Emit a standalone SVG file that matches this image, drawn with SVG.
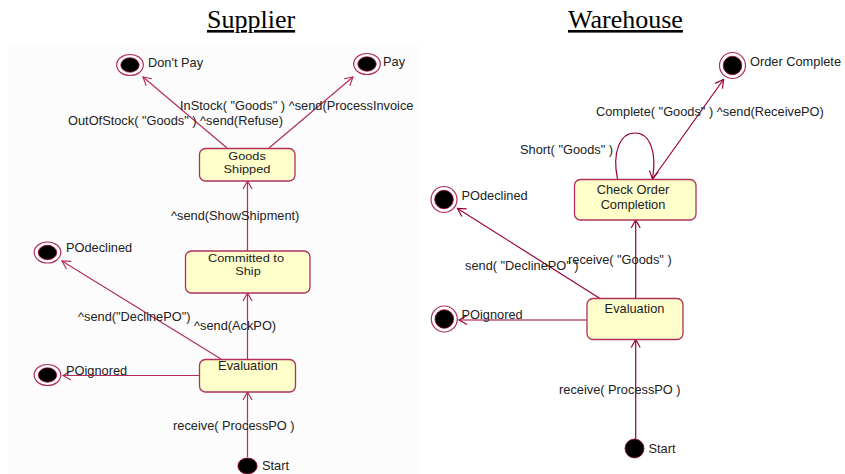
<svg xmlns="http://www.w3.org/2000/svg" width="845" height="474" viewBox="0 0 845 474">
  <style>
    .title { font-family: "Liberation Serif", "Times New Roman", serif; font-size: 26px; fill: #000; text-decoration: underline; }
    .lbl { font-family: "Liberation Sans", Arial, sans-serif; font-size: 12.8px; fill: #222; }
    .st { fill: #ffffcc; stroke: #b0305a; stroke-width: 1.3; }
    .stx { font-family: "Liberation Sans", Arial, sans-serif; font-size: 12.8px; fill: #222; text-anchor: middle; }
    .stx2 { font-family: "Liberation Sans", Arial, sans-serif; font-size: 11.5px; fill: #222; text-anchor: middle; }
    .ring { fill: #fff; stroke: #b0305a; stroke-width: 1.2; }
    .dot { fill: #000; stroke: #900030; stroke-width: 0.8; }
    .tr { fill: none; stroke: #b0305a; stroke-width: 1.2; marker-end: url(#open); }
    .tr2 { fill: none; stroke: #990033; stroke-width: 1.2; marker-end: url(#open2); }
  </style>
  <defs>
    <marker id="open" markerUnits="userSpaceOnUse" markerWidth="12" markerHeight="12" viewBox="-10 -6 12 12" refX="0" refY="0" orient="auto">
      <path d="M-8,-4.5 L0,0 L-8,4.5" fill="none" stroke="#b0305a" stroke-width="1.2"/>
    </marker>
    <marker id="open2" markerUnits="userSpaceOnUse" markerWidth="12" markerHeight="12" viewBox="-10 -6 12 12" refX="0" refY="0" orient="auto">
      <path d="M-8,-4.5 L0,0 L-8,4.5" fill="none" stroke="#990033" stroke-width="1.2"/>
    </marker>
  </defs>

  <rect width="845" height="474" fill="#fff"/>
  <rect x="8" y="46" width="412" height="428" fill="#fcfcfc"/>

  <text class="title" x="207" y="28">Supplier</text>
  <text class="title" x="568" y="28">Warehouse</text>

  <!-- Supplier transitions -->
  <g id="supplier-connectors">
    <line class="tr" x1="227" y1="148" x2="143" y2="77"/>
    <line class="tr" x1="269" y1="148" x2="353" y2="77"/>
    <line class="tr" x1="247.5" y1="251" x2="247.5" y2="181"/>
    <line class="tr" x1="247.5" y1="359" x2="247.5" y2="293"/>
    <line class="tr" x1="221" y1="359" x2="62" y2="261"/>
    <line class="tr" x1="199" y1="375.5" x2="63" y2="375.5"/>
    <line class="tr" x1="247.5" y1="457" x2="247.5" y2="392"/>
    <text class="lbl" x="180" y="110">InStock( "Goods" ) ^send(ProcessInvoice</text>
    <text class="lbl" x="68" y="125">OutOfStock( "Goods" ) ^send(Refuse)</text>
    <text class="lbl" x="171" y="220">^send(ShowShipment)</text>
    <text class="lbl" x="78" y="321">^send("DeclinePO")</text>
    <text class="lbl" x="194" y="330">^send(AckPO)</text>
    <text class="lbl" x="173" y="430">receive( ProcessPO )</text>
  </g>

  <!-- Supplier states -->
  <g id="s-dontpay">
    <ellipse class="ring" cx="130" cy="65" rx="13.3" ry="10.5"/>
    <ellipse class="dot" cx="130" cy="65" rx="9.2" ry="7.2"/>
    <text class="lbl" x="148" y="67">Don't Pay</text>
  </g>
  <g id="s-pay">
    <ellipse class="ring" cx="367" cy="64" rx="13.3" ry="10.5"/>
    <ellipse class="dot" cx="367" cy="64" rx="9.2" ry="7.2"/>
    <text class="lbl" x="383" y="66">Pay</text>
  </g>
  <g id="s-goods-shipped">
    <rect class="st" x="199.5" y="148.5" width="95.5" height="32.5" rx="6"/>
    <text class="stx2" x="247" y="159.5" textLength="37.5" lengthAdjust="spacingAndGlyphs">Goods</text>
    <text class="stx2" x="247" y="172.5" textLength="47" lengthAdjust="spacingAndGlyphs">Shipped</text>
  </g>
  <g id="s-committed">
    <rect class="st" x="185.5" y="251" width="124.5" height="42" rx="6"/>
    <text class="stx2" x="246" y="262" textLength="76" lengthAdjust="spacingAndGlyphs">Committed to</text>
    <text class="stx2" x="248" y="275" textLength="25.5" lengthAdjust="spacingAndGlyphs">Ship</text>
  </g>
  <g id="s-podeclined">
    <ellipse class="ring" cx="47.5" cy="252.5" rx="13.3" ry="10.5"/>
    <ellipse class="dot" cx="47.5" cy="252.5" rx="9.2" ry="7.2"/>
    <text class="lbl" x="66" y="252">POdeclined</text>
  </g>
  <g id="s-evaluation">
    <rect class="st" x="199.5" y="359.5" width="96" height="32.5" rx="6"/>
    <text class="stx" x="248" y="370">Evaluation</text>
  </g>
  <g id="s-poignored">
    <ellipse class="ring" cx="47.5" cy="375" rx="13.3" ry="10.5"/>
    <ellipse class="dot" cx="47.5" cy="375" rx="9.2" ry="7.2"/>
    <text class="lbl" x="66" y="375">POignored</text>
  </g>
  <g id="s-start">
    <ellipse class="dot" cx="247.5" cy="466" rx="9.6" ry="8"/>
    <text class="lbl" x="262" y="469.5">Start</text>
  </g>

  <!-- Warehouse transitions -->
  <g id="warehouse-connectors">
    <path class="tr2" d="M617.5,179 C612,152 620,133 635,133 C650,133 657,152 652.5,179"/>
    <line class="tr2" x1="652.5" y1="179" x2="723.5" y2="79.5"/>
    <line class="tr2" x1="635.7" y1="298.5" x2="635.7" y2="220"/>
    <line class="tr2" x1="600" y1="298.5" x2="457.5" y2="208.5"/>
    <line class="tr2" x1="586.7" y1="320" x2="459" y2="320"/>
    <line class="tr2" x1="635.7" y1="439" x2="635.7" y2="339.5"/>
    <text class="lbl" x="596" y="116">Complete( "Goods" ) ^send(ReceivePO)</text>
    <text class="lbl" x="520" y="153.5">Short( "Goods" )</text>
    <text class="lbl" x="465" y="270">send( "DeclinePO" )</text>
    <text class="lbl" x="568" y="264">receive( "Goods" )</text>
    <text class="lbl" x="559" y="394">receive( ProcessPO )</text>
  </g>

  <!-- Warehouse states -->
  <g id="w-order-complete">
    <circle class="ring" cx="732.5" cy="65.5" r="13"/>
    <circle class="dot" cx="732.5" cy="65.5" r="9.3"/>
    <text class="lbl" x="750" y="66">Order Complete</text>
  </g>
  <g id="w-check-order">
    <rect class="st" x="574.5" y="179.5" width="121.5" height="40.5" rx="6"/>
    <text class="stx" x="633" y="193.5">Check Order</text>
    <text class="stx" x="633" y="208.5">Completion</text>
  </g>
  <g id="w-podeclined">
    <circle class="ring" cx="444" cy="199.5" r="13"/>
    <circle class="dot" cx="444" cy="199.5" r="9.3"/>
    <text class="lbl" x="461.5" y="200">POdeclined</text>
  </g>
  <g id="w-evaluation">
    <rect class="st" x="587" y="298.5" width="96" height="41" rx="6"/>
    <text class="stx" x="634.5" y="313">Evaluation</text>
  </g>
  <g id="w-poignored">
    <circle class="ring" cx="444.3" cy="319" r="13"/>
    <circle class="dot" cx="444.3" cy="319" r="9.3"/>
    <text class="lbl" x="461.5" y="319">POignored</text>
  </g>
  <g id="w-start">
    <circle class="dot" cx="634.5" cy="448.5" r="9.5"/>
    <text class="lbl" x="648.5" y="452.5">Start</text>
  </g>
</svg>
